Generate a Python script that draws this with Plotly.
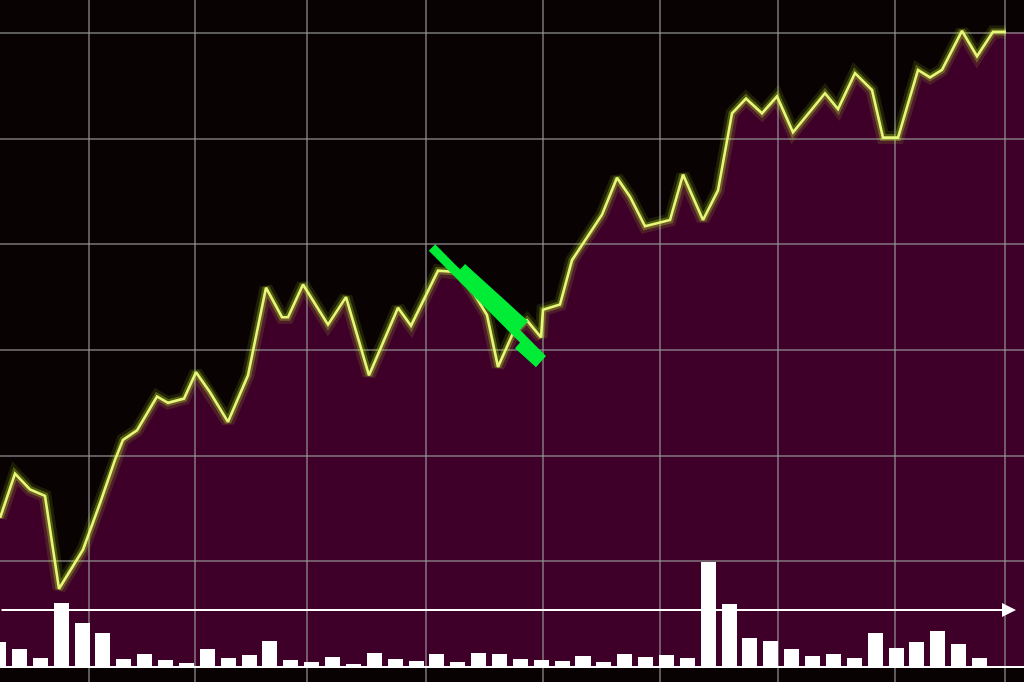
import plotly.graph_objects as go

# ---- data ----
time = [0, 1.5, 3.0, 4.5, 5.9, 8.3, 10.0, 11.5, 12.3, 13.7, 15.7, 16.8, 18.4, 19.6, 21.0, 22.8,
        24.8, 26.6, 28.2, 28.8, 30.3, 32.8, 34.6, 36.9, 39.8, 41.1, 43.8, 45.3, 46.2, 48.7, 49.8,
        51.3, 52.7, 54.1, 54.3, 56.0, 57.2, 58.7, 60.2, 61.7, 63.0, 64.5, 67.0, 68.3, 70.3, 71.8,
        73.2, 74.6, 76.2, 77.7, 79.3, 82.5, 83.8, 85.5, 87.2, 88.3, 89.8, 91.8, 93.0, 94.2, 96.2,
        97.7, 99.3, 100.6]
price = [14.1, 18.3, 16.8, 16.2, 7.4, 11.1, 15.5, 19.6, 21.5, 22.4, 25.6, 25.0, 25.4, 27.9, 26.0, 23.2,
         27.6, 35.9, 33.1, 33.1, 36.2, 32.4, 35.0, 27.6, 34.0, 32.3, 37.5, 37.4, 37.2, 33.3, 28.4,
         31.6, 32.8, 31.2, 33.8, 34.3, 38.5, 40.7, 42.8, 46.3, 44.5, 41.7, 42.3, 46.6, 42.3, 45.1,
         52.4, 53.8, 52.4, 54.0, 50.6, 54.3, 52.8, 56.2, 54.6, 50.1, 50.1, 56.5, 55.8, 56.5, 60.2,
         57.8, 60.1, 60.1]

volume = [25, 18, 9, 64, 44, 34, 8, 13, 7, 4, 18, 9, 12, 26, 7, 5, 10, 3, 14, 8, 6, 13, 5, 14,
          13, 8, 7, 6, 11, 5, 13, 10, 12, 9, 105, 63, 29, 26, 18, 11, 13, 9, 34, 19, 25, 36, 23, 9]
vol_index = list(range(len(volume)))

# green drop marker segments (start time, start price, end time, end price)
seg_t0 = [43.2, 46.0, 52.0]
seg_p0 = [39.7, 37.6, 30.7]
seg_t1 = [54.1, 52.3, 54.1]
seg_p1 = [29.3, 32.2, 28.9]

grid_t = [8.9, 19.5, 30.7, 42.6, 54.3, 66.0, 77.8, 89.5, 100.5]
grid_p = [10, 20, 30, 40, 50, 60]
arrow_level = 5.4

# ---- styles ----
BG = "#080203"
FILL = "#3e0029"
LINE = "#e6f77a"
GREEN = "#00ec36"
GRID = "rgba(150,150,150,0.6)"
seg_w = [9, 15, 15]

X_RANGE = [0, 102.4]
Y_RANGE = [-1.42, 63.12]

fig = go.Figure()

# subplot 1: area fill only (drawn underneath the grid)
fill_t = time + [X_RANGE[1]]
fill_p = price + [price[-1]]
fig.add_trace(go.Scatter(x=fill_t, y=fill_p, mode="lines", line=dict(width=0),
                         fill="tozeroy", fillcolor=FILL, xaxis="x", yaxis="y",
                         hoverinfo="skip", showlegend=False))

# subplot 2: glow + line + green marker
fig.add_trace(go.Scatter(x=time, y=price, mode="lines", line=dict(color="rgba(190,240,40,0.12)", width=13),
                         xaxis="x2", yaxis="y2", hoverinfo="skip", showlegend=False))
fig.add_trace(go.Scatter(x=time, y=price, mode="lines", line=dict(color="rgba(200,240,40,0.30)", width=7),
                         xaxis="x2", yaxis="y2", hoverinfo="skip", showlegend=False))
fig.add_trace(go.Scatter(x=time, y=price, mode="lines", line=dict(color=LINE, width=2.6),
                         xaxis="x2", yaxis="y2", showlegend=False))
for t0, p0, t1, p1, w in zip(seg_t0, seg_p0, seg_t1, seg_p1, seg_w):
    fig.add_trace(go.Scatter(x=[t0, t1], y=[p0, p1], mode="lines",
                             line=dict(color=GREEN, width=w), xaxis="x2", yaxis="y2",
                             hoverinfo="skip", showlegend=False))

# volume bars (overlaying subplot 2)
fig.add_trace(go.Bar(x=vol_index, y=volume, marker=dict(color="white", line=dict(width=0)),
                     width=0.72, xaxis="x3", yaxis="y3", showlegend=False))

axis_off = dict(showticklabels=False, ticks="", zeroline=False, showline=False)
fig.update_layout(
    width=1024, height=682, autosize=False,
    margin=dict(l=0, r=0, t=0, b=0),
    paper_bgcolor=BG, plot_bgcolor="rgba(0,0,0,0)",
    showlegend=False,
    xaxis=dict(domain=[0, 1], range=X_RANGE, showgrid=False, **axis_off),
    yaxis=dict(domain=[0, 1], range=Y_RANGE, showgrid=False, **axis_off),
    xaxis2=dict(domain=[0, 1], range=X_RANGE, anchor="y2", showgrid=True, gridcolor=GRID,
                gridwidth=2, tickmode="array", tickvals=grid_t, **axis_off),
    yaxis2=dict(domain=[0, 1], range=Y_RANGE, anchor="x2", showgrid=True, gridcolor=GRID,
                gridwidth=2, tickmode="array", tickvals=grid_p, **axis_off),
    xaxis3=dict(overlaying="x2", range=[0.067, 49.13], showgrid=False, **axis_off),
    yaxis3=dict(overlaying="y2", range=[-15, 667], showgrid=False, showticklabels=False,
                ticks="", showline=False, zeroline=True, zerolinecolor="white", zerolinewidth=2),
    bargap=0,
)

fig.add_annotation(x=101.6, y=arrow_level, xref="x2", yref="y2",
                   ax=0, ay=arrow_level, axref="x2", ayref="y2",
                   showarrow=True, arrowhead=2, arrowsize=1.4, arrowwidth=2,
                   arrowcolor="white", text="")

fig.write_html(
    "out.html",
    config={"displayModeBar": False},
    post_script="document.body.style.margin='0';document.body.style.background='" + BG + "';",
)
